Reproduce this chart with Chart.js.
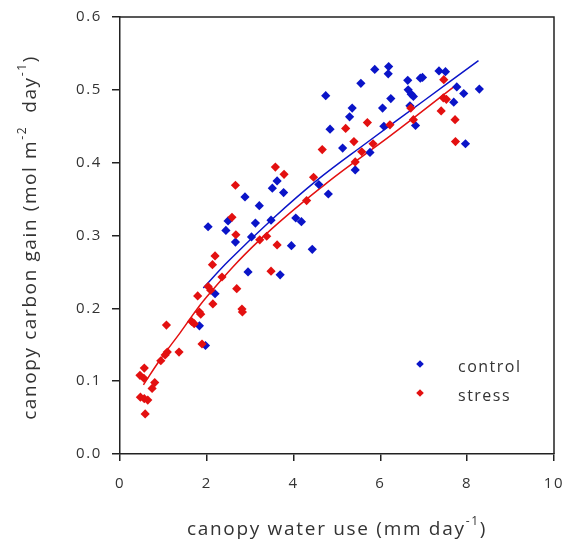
<!DOCTYPE html>
<html>
<head>
<meta charset="utf-8">
<script src="https://cdn.jsdelivr.net/npm/chart.js@4/dist/chart.umd.min.js"></script>
<style>
html,body{margin:0;padding:0;background:#fff;}
#wrap{width:568px;height:552px;}
</style>
</head>
<body>
<div id="wrap"><canvas id="c" width="568" height="552"></canvas></div>
<script>
// ---- data ----
const controlX = [2.03,2.44,2.49,2.88,3.12,3.21,3.03,3.48,3.51,3.62,3.77,4.05,4.18,4.58,4.80,4.74,4.84,5.13,5.29,5.35,5.42,5.55,5.76,5.87,6.05,6.08,6.19,6.18,6.24,6.63,6.64,6.71,6.76,6.68,6.81,6.92,6.97,7.35,7.50,7.76,7.92,7.69,7.96,8.28,2.66,3.95,4.43,2.95,3.69,2.19,1.83,1.97];
const controlY = [0.312,0.307,0.320,0.353,0.317,0.341,0.298,0.321,0.365,0.375,0.359,0.324,0.319,0.370,0.357,0.492,0.446,0.420,0.463,0.475,0.390,0.509,0.414,0.528,0.475,0.450,0.532,0.522,0.488,0.513,0.500,0.494,0.491,0.478,0.451,0.516,0.517,0.526,0.525,0.504,0.495,0.483,0.426,0.501,0.291,0.286,0.281,0.250,0.246,0.220,0.176,0.149];
const stressX = [2.66,2.58,2.67,3.58,3.78,4.46,4.66,4.30,5.20,5.39,5.42,5.57,5.70,5.83,6.22,6.70,6.76,7.40,7.45,7.52,7.46,7.72,7.73,3.38,3.22,3.62,2.19,2.13,2.35,2.69,3.48,2.03,2.09,1.79,2.14,1.83,1.86,2.81,2.82,1.65,1.71,1.07,1.89,1.36,1.09,1.04,0.94,0.56,0.46,0.55,0.80,0.74,0.47,0.56,0.64,0.58];
const stressY = [0.369,0.325,0.301,0.394,0.384,0.380,0.418,0.348,0.447,0.429,0.401,0.415,0.455,0.426,0.452,0.475,0.459,0.471,0.489,0.487,0.514,0.459,0.429,0.299,0.294,0.287,0.272,0.260,0.243,0.227,0.251,0.230,0.225,0.217,0.206,0.195,0.192,0.199,0.195,0.182,0.179,0.177,0.151,0.140,0.140,0.136,0.128,0.118,0.108,0.104,0.098,0.090,0.078,0.076,0.074,0.055];
// trend lines
const controlFitX = [1.92,2.5,3.5,4.5,5.7,7.0,8.26];
const controlFitY = [0.228,0.265,0.322,0.374,0.428,0.485,0.540];
const stressFitX = [0.54,0.92,1.38,2.0,3.22,4.76,6.21,7.69];
const stressFitY = [0.095,0.129,0.166,0.216,0.294,0.372,0.436,0.504];
const xTicks = [0,2,4,6,8,10];
const yTicks = [0.0,0.1,0.2,0.3,0.4,0.5,0.6];
const seriesNames = ['control','stress'];

const BLUE = '#0a14c8';
const RED = '#e31010';
const zip = (xs, ys) => xs.map((x,i)=>({x:x,y:ys[i]}));

const FONT = '"Open Sans", "Liberation Sans", sans-serif';
const TEXT = '#333';

function drawRich(ctx, parts, x, y, size, sp){
  const fontFor = p => (p[1]? Math.round(size*0.62):size)+'px '+FONT;
  let total = 0;
  ctx.letterSpacing = '0px';
  parts.forEach(p=>{ctx.font = fontFor(p); total += ctx.measureText(p[0]).width + p[0].length*sp;});
  let cx = x - total/2;
  parts.forEach(p=>{
    ctx.font = fontFor(p);
    ctx.letterSpacing = '0px';
    const w = ctx.measureText(p[0]).width + p[0].length*sp;
    ctx.letterSpacing = sp+'px';
    ctx.fillText(p[0], cx, p[1]? y - size*0.45 : y);
    cx += w;
  });
  ctx.letterSpacing = '0px';
}

const spacing = {
  id:'spacing',
  beforeDraw(chart){ chart.ctx.letterSpacing = '1.6px'; },
  afterDraw(chart){ chart.ctx.letterSpacing = '0px'; }
};

const decor = {
  id:'decor',
  afterDraw(chart){
    const ctx = chart.ctx, a = chart.chartArea;
    ctx.save();
    ctx.letterSpacing = '0px';
    ctx.strokeStyle = '#222';
    ctx.lineWidth = 1.5;
    ctx.beginPath();
    ctx.moveTo(a.left, a.top); ctx.lineTo(a.right, a.top); ctx.lineTo(a.right, a.bottom);
    ctx.stroke();
    // axis titles
    ctx.fillStyle = TEXT;
    ctx.textBaseline = 'middle';
    ctx.textAlign = 'left';
    drawRich(ctx, [['canopy water use (mm day',0],['-1',1],[')',0]], (a.left+a.right)/2, 530, 19, 1.7);
    ctx.save();
    ctx.translate(31, (a.top+a.bottom)/2 + 2);
    ctx.rotate(-Math.PI/2);
    drawRich(ctx, [['canopy carbon gain (mol m',0],['-2',1],['  day',0],['-1',1],[')',0]], 0, 0, 19, 1.6);
    ctx.restore();
    // legend
    const items = [[seriesNames[0], BLUE, 364],[seriesNames[1], RED, 393]];
    items.forEach(it=>{
      ctx.fillStyle = it[1];
      ctx.beginPath();
      const mx = 420, my = it[2], r = 3.8;
      ctx.moveTo(mx, my-r); ctx.lineTo(mx+r, my); ctx.lineTo(mx, my+r); ctx.lineTo(mx-r, my); ctx.closePath();
      ctx.fill();
      ctx.fillStyle = TEXT;
      ctx.font = '16px '+FONT;
      ctx.letterSpacing = '1.5px';
      ctx.textAlign = 'left';
      ctx.fillText(it[0], 458, it[2]+3);
      ctx.letterSpacing = '0px';
    });
    ctx.restore();
  }
};

new Chart(document.getElementById('c'), {
  type:'scatter',
  data:{
    datasets:[
      {label:seriesNames[0]+' fit', type:'line', data:zip(controlFitX,controlFitY), borderColor:BLUE, borderWidth:1.5, pointRadius:0, tension:0.4, fill:false, order:2},
      {label:seriesNames[1]+' fit', type:'line', data:zip(stressFitX,stressFitY), borderColor:RED, borderWidth:1.5, pointRadius:0, tension:0.4, fill:false, order:2},
      {label:seriesNames[0], data:zip(controlX,controlY), backgroundColor:BLUE, borderColor:BLUE, pointStyle:'rectRot', pointRadius:4.6, borderWidth:0, order:1},
      {label:seriesNames[1], data:zip(stressX,stressY), backgroundColor:RED, borderColor:RED, pointStyle:'rectRot', pointRadius:4.6, borderWidth:0, order:0}
    ]
  },
  options:{
    responsive:false,
    animation:false,
    devicePixelRatio:1,
    layout:{padding:{left:0,right:14,top:17,bottom:0}},
    plugins:{legend:{display:false}, tooltip:{enabled:false}},
    scales:{
      x:{
        type:'linear', min:0, max:10,
        afterBuildTicks(s){ s.ticks = xTicks.map(v=>({value:v})); },
        afterFit(s){ s.height = 98; s.paddingLeft = 0; s.paddingRight = 0; },
        grid:{drawOnChartArea:false, drawTicks:true, tickLength:7, color:'#222', lineWidth:1.5},
        border:{display:true, color:'#222', width:1.5},
        ticks:{color:TEXT, font:{family:FONT, size:15}, padding:14, maxRotation:0, callback:v=>String(v)}
      },
      y:{
        type:'linear', min:0, max:0.6,
        afterBuildTicks(s){ s.ticks = yTicks.map(v=>({value:v})); },
        afterFit(s){ s.width = 120; s.paddingTop = 0; s.paddingBottom = 0; },
        grid:{drawOnChartArea:false, drawTicks:true, tickLength:8, color:'#222', lineWidth:1.5},
        border:{display:true, color:'#222', width:1.5},
        ticks:{color:TEXT, font:{family:FONT, size:15}, padding:10, callback:v=>v.toFixed(1)}
      }
    }
  },
  plugins:[spacing, decor]
});
</script>
</body>
</html>
